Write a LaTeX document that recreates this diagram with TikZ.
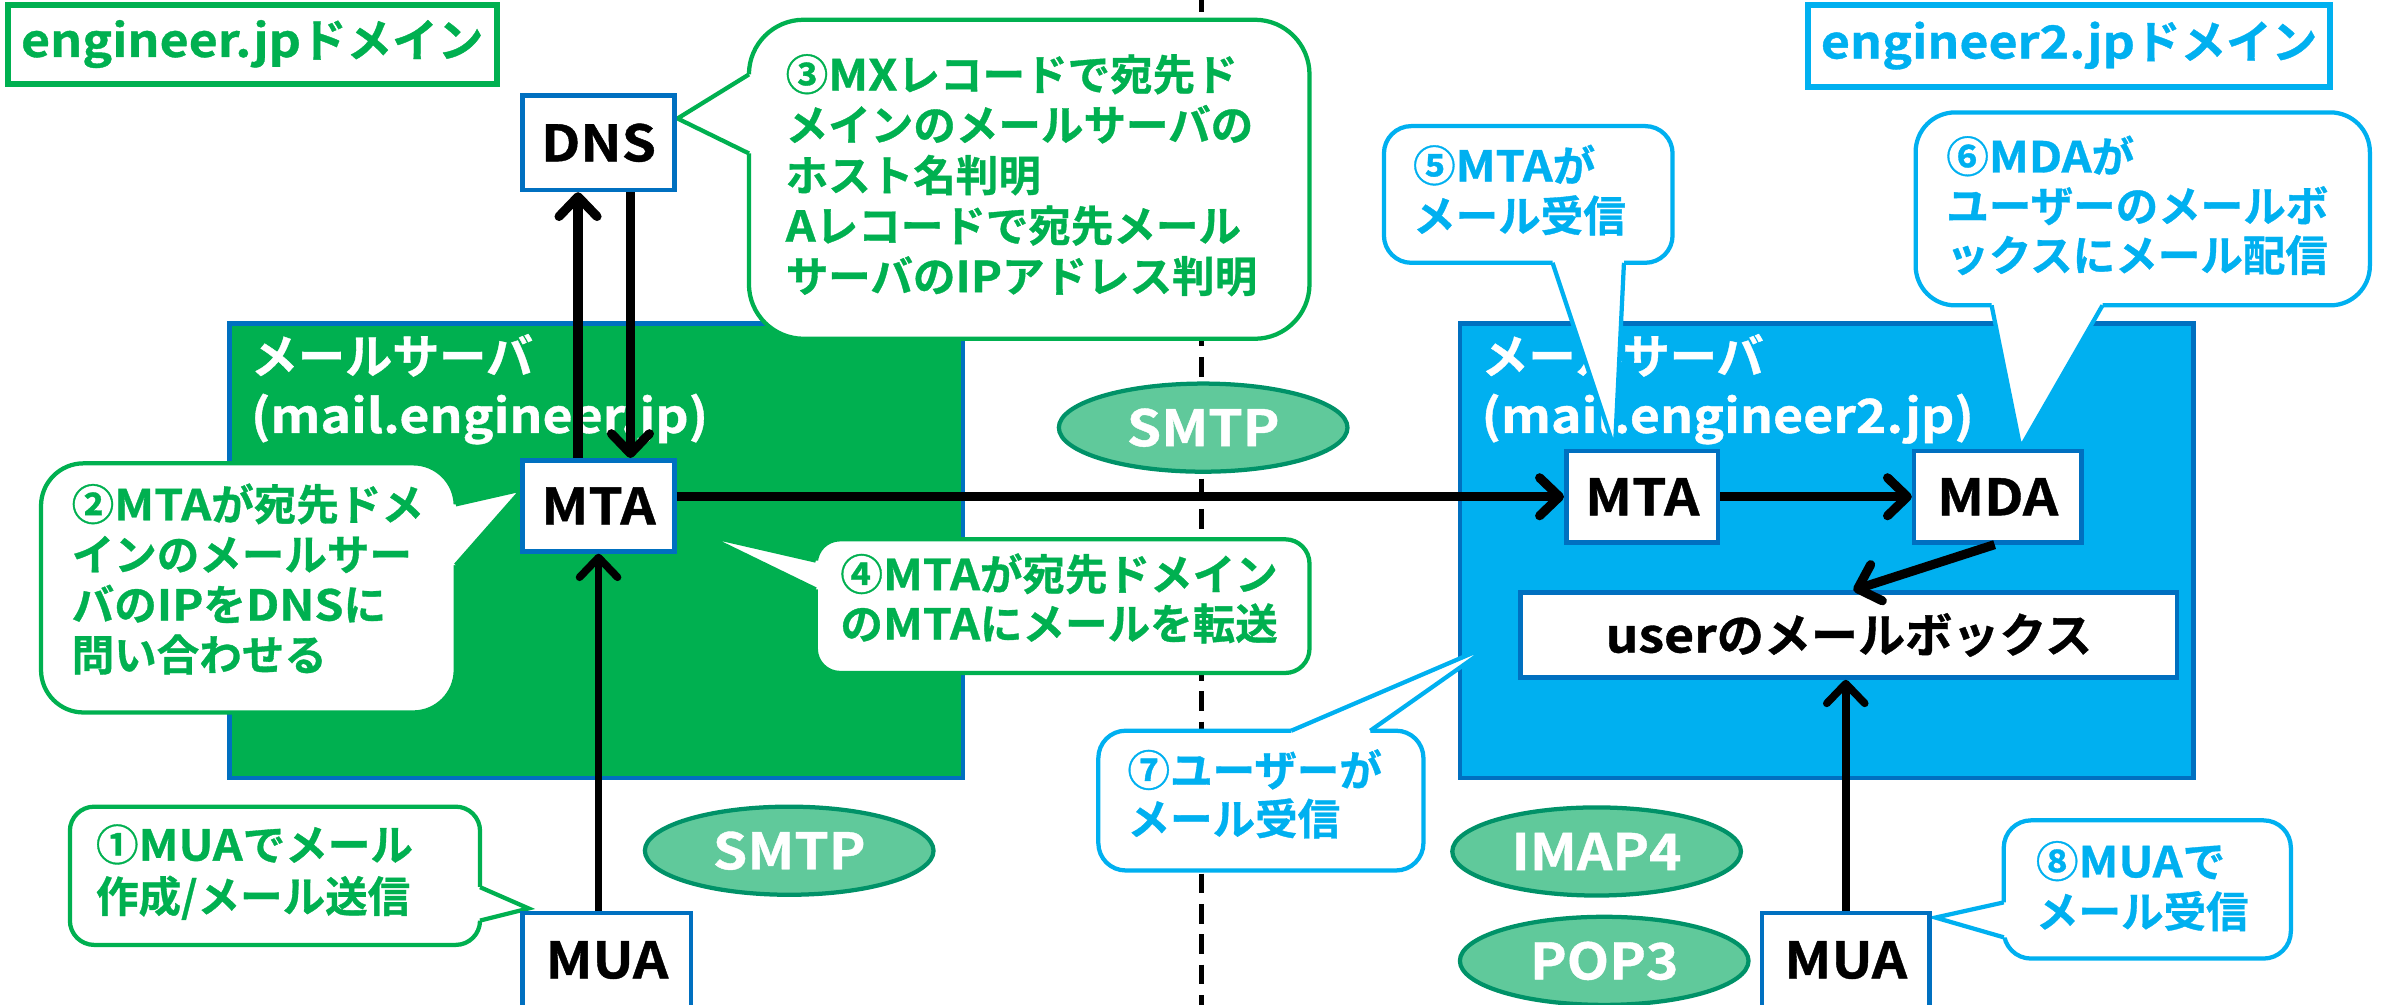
\documentclass[tikz,border=0pt]{standalone}
\usepackage{fontspec}
\setmainfont{Noto Sans CJK JP Bold}[FakeBold=0.8]
\newfontfamily\latn{Noto Sans CJK JP Bold}[FakeStretch=1.1, FakeBold=0.8]
\usetikzlibrary{arrows.meta,shapes.geometric,calc}

\definecolor{grn}{RGB}{0,176,80}
\definecolor{cyn}{RGB}{0,176,240}
\definecolor{blu}{RGB}{0,112,192}
\definecolor{elfill}{RGB}{96,201,155}
\definecolor{eldraw}{RGB}{0,146,104}

\newcommand\fs[1]{\fontsize{#1}{#1}\selectfont}

% rounded callout: colour, radius, corner, corner, pointer base 1, pointer base 2, tip, inward shift
\newcommand\callbox[8]{%
  \draw[#1, line width=2.8pt, fill=white, rounded corners=#2] #3 rectangle #4;
  \fill[white] ($#5+#8$) -- #5 -- #7 -- #6 -- ($#6+#8$) -- cycle;
  \draw[#1, line width=2.8pt, line join=miter] #5 -- #7 -- #6;
}
% lines of callout text: name prefix, x, first baseline, line step, colour, lines
\newcommand\clines[6]{%
  \foreach \t [count=\i] in {#6} {
    \node[ctext, text=#5] (#1\i) at (#2, {#3+(\i-1)*#4}) {\t};
  }
}

\begin{document}
\begin{tikzpicture}[x=1pt, y=-1pt,
  box/.style={draw=blu, line width=3pt, fill=white, inner sep=0pt, text=black, font=\fs{33}\latn},
  ell/.style={ellipse, draw=eldraw, line width=2.8pt, fill=elfill, inner sep=0pt,
    minimum width=190pt, minimum height=58pt, text=white, font=\fs{33}\latn},
  arr/.style={line width=6pt, -{Straight Barb[length=13pt, width=25pt, round]}},
  thinarr/.style={arr, line width=5pt},
  ctext/.style={anchor=base west, inner sep=0pt, font=\fs{28}},
  slab/.style={anchor=base west, inner sep=0pt, text=white, font=\fs{31}},
  dom/.style={line width=4pt, fill=white, inner sep=0pt, font=\fs{30}}]
\useasboundingbox (0,0) rectangle (1568,661);

% domain boundary
\draw[line width=3.5pt, dash pattern=on 13pt off 7pt] (791,-5) -- (791,670);

% mail servers
\filldraw[fill=grn, draw=blu, line width=3pt] (151,213) rectangle (634,512);
\filldraw[fill=cyn, draw=blu, line width=3pt] (961,213) rectangle (1444,512);
\node[slab] (svL1) at (165,246) {メールサーバ};
\node[slab] (svL2) at (165,285) {\latn (mail.engineer.jp)};
\node[slab] (svR1) at (975,246) {メールサーバ};
\node[slab] (svR2) at (975,285) {\latn (mail.engineer2.jp)};

% domain labels
\node[dom, draw=grn, text=grn, minimum width=322pt, minimum height=52pt] (domL) at (166,29)
  {{\latn engineer.jp}ドメイン};
\node[dom, draw=cyn, text=cyn, minimum width=344pt, minimum height=54pt] (domR) at (1362,30)
  {{\latn engineer2.jp}ドメイン};

% protocols
\node[ell] (smtpA) at (792,281.5) {SMTP};
\node[ell] (smtpB) at (519.5,560) {SMTP};
\node[ell] (imap) at (1051,560.5) {IMAP4};
\node[ell] (pop) at (1056,632.5) {POP3};

% callouts
\callbox{grn}{36pt}{(493,13)}{(862,223)}{(493,49)}{(493,101)}{(446,78)}{(5,0)}
\clines{tc}{517}{59.5}{33.2}{grn}{{③{\latn MX}レコードで宛先ド},{メインのメールサーバの},{ホスト名判明},{{\latn A}レコードで宛先メール},{サーバの{\latn IP}アドレス判明}}

\callbox{grn}{28pt}{(27,305)}{(300,469)}{(300,332)}{(300,372)}{(344,322)}{(-5,0)}
\clines{tb}{47}{342.5}{33}{grn}{{②{\latn MTA}が宛先ドメ},{インのメールサー},{バの{\latn IP}を{\latn DNS}に},{問い合わせる}}

\callbox{grn}{16pt}{(537,355)}{(862,443)}{(537,369)}{(537,388)}{(463,352)}{(5,0)}
\clines{td}{553}{388.5}{32.5}{grn}{{④{\latn MTA}が宛先ドメイン},{の{\latn MTA}にメールを転送}}

\callbox{grn}{16pt}{(46,531)}{(316,622)}{(316,584)}{(316,606)}{(348,598)}{(-5,0)}
\clines{ta}{63}{566.5}{34}{grn}{{①{\latn MUA}でメール},{作成/メール送信}}

\callbox{cyn}{18pt}{(911,83)}{(1101,173)}{(1022,173)}{(1069,173)}{(1063,296)}{(0,-5)}
\clines{te}{930}{119.5}{33}{cyn}{{⑤{\latn MTA}が},{メール受信}}

\callbox{cyn}{26pt}{(1261,74)}{(1560,201)}{(1311,201)}{(1384,201)}{(1330,295)}{(0,-5)}
\clines{tf}{1281}{113.5}{32.5}{cyn}{{⑥{\latn MDA}が},{ユーザーのメールボ},{ックスにメール配信}}

\callbox{cyn}{18pt}{(723,481)}{(937,573)}{(850,481)}{(902,481)}{(983,424)}{(0,5)}
\clines{tg}{742}{517.5}{32}{cyn}{{⑦ユーザーが},{メール受信}}

\callbox{cyn}{18pt}{(1319,540)}{(1508,631)}{(1319,594)}{(1319,617)}{(1274,604)}{(5,0)}
\clines{th}{1340}{577.5}{33}{cyn}{{⑧{\latn MUA}で},{メール受信}}

% components
\node[box, minimum width=100pt, minimum height=62pt] (dns) at (394,94) {DNS};
\node[box, minimum width=100pt, minimum height=60pt] (mtaL) at (394,333) {MTA};
\node[box, minimum width=111pt, minimum height=62pt] (muaL) at (399.5,632) {MUA};
\node[box, minimum width=100pt, minimum height=60pt] (mtaR) at (1081,327) {MTA};
\node[box, minimum width=110pt, minimum height=60pt] (mda) at (1315,327) {MDA};
\node[box, minimum width=432pt, minimum height=56pt, font=\normalfont\fs{31}] (mbox) at (1217,418)
  {{\latn user}のメールボックス};
\node[box, minimum width=110pt, minimum height=62pt] (muaR) at (1215,632) {MUA};

% message flow
\draw[arr] ([xshift=-13.5pt]mtaL.north) -- ([xshift=-13.5pt]dns.south);
\draw[arr] ([xshift=21pt]dns.south) -- ([xshift=21pt]mtaL.north);
\draw[thinarr] (muaL.north -| mtaL.south) -- (mtaL.south);
\draw[arr] (mtaL.east |- mtaR.west) -- (mtaR.west);
\draw[arr] (mtaR.east) -- (mda.west);
\draw[arr] ([xshift=-2pt]mda.south) -- ([xshift=3pt]mbox.north);
\draw[thinarr] (muaR.north) -- (mbox.south -| muaR.north);
\end{tikzpicture}
\end{document}
